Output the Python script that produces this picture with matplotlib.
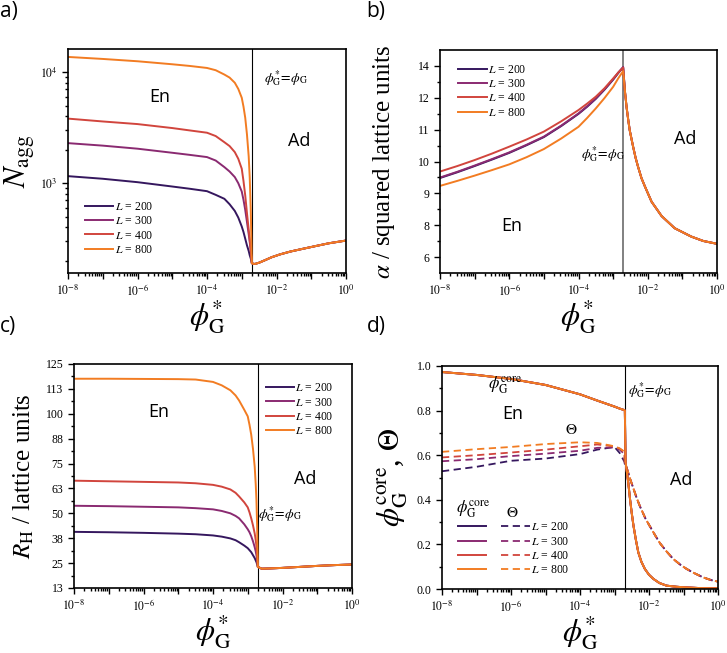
import numpy as np
import matplotlib
matplotlib.use('Agg')
import matplotlib.pyplot as plt
from matplotlib.ticker import FixedLocator, NullFormatter, FixedFormatter, LogLocator, MultipleLocator

plt.rcParams['font.family'] = ['Liberation Serif', 'DejaVu Serif']
plt.rcParams['mathtext.fontset'] = 'stix'

# ---------------- data ----------------
L_values = [200, 300, 400, 800]
colors = ['#35175e', '#8a2a71', '#d1453d', '#f27c22']
phi_c_exp = -2.71          # log10 of the critical phi*_G

# panel a : N_agg
a_en_exp = [-8, -7, -6, -5, -4.5, -4, -3.75, -3.5, -3.35, -3.2, -3.1, -3.0, -2.95, -2.9,
            -2.85, -2.8, -2.77, -2.74, -2.71]
a_N200 = [1157, 1096, 1021, 933, 891, 847, 785, 723, 646, 562, 490, 407, 363, 316,
          275, 245, 224, 209, 190]
a_N300 = [2296, 2180, 2046, 1880, 1800, 1719, 1600, 1396, 1274, 1135, 1000, 841, 708, 575,
          447, 347, 295, 245, 190]
a_N400 = [3820, 3600, 3410, 3140, 2990, 2850, 2660, 2340, 2160, 1905, 1660, 1350, 1047, 776,
          537, 380, 309, 245, 190]
a_N800 = [13740, 13180, 12560, 11800, 11400, 10930, 10430, 9530, 8950, 8040, 7080, 5890, 4900, 3890,
          2750, 1740, 1120, 560, 190]
a_ad_exp = [-2.68, -2.62, -2.5, -2.35, -2.14, -1.9, -1.6, -1.27, -0.9, -0.5, 0.0]
a_ad_N = [188, 187, 192, 201, 215, 228, 242, 255, 270, 287, 304]

# panel b : alpha
b_en_exp = [-8, -7.5, -7, -6.5, -6, -5.5, -5, -4.5, -4, -3.75, -3.5, -3.25, -3, -2.85, -2.71]
b_a200 = [9.31, 9.55, 9.81, 10.08, 10.36, 10.68, 11.02, 11.48, 11.99, 12.29, 12.62, 13.00, 13.42, 13.70, 13.93]
b_a300 = [9.33, 9.57, 9.83, 10.10, 10.38, 10.70, 11.04, 11.50, 12.01, 12.31, 12.64, 13.02, 13.44, 13.72, 13.95]
b_a400 = [9.58, 9.81, 10.06, 10.33, 10.62, 10.92, 11.25, 11.68, 12.15, 12.42, 12.71, 13.06, 13.47, 13.72, 13.92]
b_a800 = [8.98, 9.19, 9.41, 9.64, 9.88, 10.18, 10.52, 10.96, 11.45, 11.82, 12.22, 12.65, 13.12, 13.48, 13.78]
b_ad_exp = [-2.66, -2.61, -2.56, -2.52, -2.47, -2.42, -2.35, -2.28, -2.18, -2.08, -1.89, -1.60,
            -1.22, -0.74, -0.4, 0.0]
b_ad_a = [12.95, 12.25, 11.7, 11.3, 10.95, 10.6, 10.15, 9.78, 9.3, 8.95, 8.32, 7.72,
          7.21, 6.86, 6.68, 6.56]
b_tick_vals = [6, 22 / 3, 26 / 3, 10, 34 / 3, 38 / 3, 14]
b_tick_labels = ['6', '8', '9', '10', '11', '12', '14']

# panel c : R_H
c_en_exp = [-8, -7, -6, -5, -4.5, -4, -3.75, -3.5, -3.35, -3.25, -3.1, -3.0, -2.95, -2.9,
            -2.85, -2.8, -2.77, -2.75, -2.73, -2.71]
c_R200 = [40.7, 40.5, 40.2, 39.8, 39.5, 38.9, 38.3, 37.4, 36.5, 35.5, 33.8, 32.5, 31.5, 30.5,
          29.0, 27.5, 26.3, 25.5, 24.4, 23.1]
c_R300 = [53.8, 53.6, 53.3, 53.0, 52.6, 52.0, 51.2, 50.0, 48.7, 47.5, 44.5, 42.0, 40.5, 38.5,
          36.0, 33.0, 30.8, 29.0, 26.5, 23.1]
c_R400 = [66.4, 66.1, 65.8, 65.5, 65.1, 64.3, 63.4, 62.0, 60.3, 58.5, 55.5, 53.0, 50.5, 47.5,
          44.0, 39.9, 36.5, 33.5, 29.5, 23.1]
c_R800 = [117.6, 117.6, 117.5, 117.4, 117.2, 116.0, 114.3, 111.8, 109.2, 106.7, 102.0, 98.7, 94.5, 89.5,
          82.5, 73.4, 64.5, 56.7, 44.0, 23.1]
c_ad_exp = [-2.6, -2.4, -2.0, -1.5, -1.0, -0.5, 0.0]
c_ad_R = [22.2, 22.3, 22.6, 23.1, 23.6, 24.0, 24.3]
c_tick_vals = [12.5, 25, 37.5, 50, 62.5, 75, 87.5, 100, 112.5, 125]
c_tick_labels = ['13', '25', '38', '50', '63', '75', '88', '100', '113', '125']

# panel d : phi_core (solid) and Theta (dashed)
d_en_exp = [-8, -7, -6, -5, -4, -3.5, -3.0, -2.85, -2.71]
d_core_en = [0.973, 0.960, 0.942, 0.915, 0.873, 0.845, 0.818, 0.809, 0.802]
d_core_ad_exp = [-2.70, -2.68, -2.65, -2.60, -2.55, -2.50, -2.45, -2.38, -2.31, -2.22, -2.12,
                 -2.0, -1.87, -1.7, -1.49, -1.2, -0.91, -0.5, 0.0]
d_core_ad = [0.80, 0.57, 0.535, 0.475, 0.403, 0.34, 0.284, 0.22, 0.164, 0.122, 0.090,
             0.064, 0.045, 0.027, 0.015, 0.010, 0.007, 0.004, 0.003]
d_th200 = [0.528, 0.548, 0.575, 0.585, 0.605, 0.625, 0.637, 0.610, 0.570]
d_th300 = [0.573, 0.582, 0.596, 0.607, 0.620, 0.633, 0.635, 0.625, 0.605]
d_th400 = [0.590, 0.600, 0.612, 0.625, 0.640, 0.648, 0.640, 0.630, 0.615]
d_th800 = [0.615, 0.627, 0.637, 0.650, 0.658, 0.655, 0.640, 0.630, 0.615]
d_th_ad_exp = [-2.70, -2.65, -2.55, -2.45, -2.35, -2.26, -2.1, -1.97, -1.8, -1.68, -1.5,
               -1.30, -1.1, -0.91, -0.7, -0.43, -0.2, 0.0]
d_th_ad = [0.56, 0.545, 0.495, 0.45, 0.405, 0.37, 0.315, 0.28, 0.235, 0.205, 0.17,
           0.135, 0.11, 0.090, 0.072, 0.052, 0.04, 0.033]

# ---------------- figure ----------------
W, H = 727, 653
fig = plt.figure(figsize=(W / 100, H / 100), dpi=100)


def axes_px(l, t, r, b):
    return fig.add_axes([l / W, 1 - b / H, (r - l) / W, (b - t) / H])


axa = axes_px(68, 49, 346, 273)
axb = axes_px(440, 50, 717, 273)
axc = axes_px(74, 364, 352, 588)
axd = axes_px(442, 366, 718, 589)

sans = ['Open Sans', 'DejaVu Sans']
tick_fs = 8.5
crit_label = r'$\phi^{*}_{\rm G}\!=\!\phi_{\rm G}$'
xlab = r'$\phi^{*}_{\rm G}$'
leg_kw = dict(frameon=False, fontsize=8.5, handlelength=2.4, handletextpad=0.1,
              labelspacing=0.2, borderpad=0)


def style_axes(ax, vcolor='black', vlw=0.8):
    ax.set_xscale('log')
    ax.set_xlim(1e-8, 1e0)
    dec = [10.0 ** e for e in range(-8, 1)]
    ax.xaxis.set_major_locator(FixedLocator(dec))
    ax.xaxis.set_major_formatter(FixedFormatter(
        [r'$10^{%d}$' % e if e % 2 == 0 else '' for e in range(-8, 1)]))
    ax.xaxis.set_minor_locator(LogLocator(base=10, subs=np.arange(2, 10), numticks=20))
    ax.xaxis.set_minor_formatter(NullFormatter())
    for s in ax.spines.values():
        s.set_linewidth(1.2)
    ax.tick_params(which='both', direction='out', top=False, right=False,
                   labelsize=tick_fs, width=1.0)
    ax.tick_params(which='major', length=4)
    ax.tick_params(which='minor', length=2)
    ax.axvline(10.0 ** phi_c_exp, color=vcolor, lw=vlw, zorder=1)
    ax.set_xlabel(xlab, fontsize=22)
    ax.xaxis.set_label_coords(0.5, -0.115)


def full(en_exp, en_vals, ad_exp, ad_vals):
    x = 10.0 ** np.array(list(en_exp) + list(ad_exp))
    y = np.array(list(en_vals) + list(ad_vals))
    return x, y


def leg_labels():
    return [r'$L$ = %d' % L for L in L_values]


def region_text(ax, x, y, s, **kw):
    ax.text(x, y, s, transform=ax.transAxes, ha='center', va='center', **kw)


# ---- panel a ----
style_axes(axa)
axa.set_yscale('log')
axa.set_ylim(155, 16200)
axa.yaxis.set_major_locator(FixedLocator([1e3, 1e4]))
axa.yaxis.set_major_formatter(FixedFormatter([r'$10^{3}$', r'$10^{4}$']))
axa.yaxis.set_minor_locator(LogLocator(base=10, subs=np.arange(2, 10), numticks=20))
axa.yaxis.set_minor_formatter(NullFormatter())
for vals, col, lab in zip([a_N200, a_N300, a_N400, a_N800], colors, leg_labels()):
    x, y = full(a_en_exp, vals, a_ad_exp, a_ad_N)
    axa.plot(x, y, color=col, lw=1.4, label=lab)
axa.legend(loc='lower left', bbox_to_anchor=(0.04, 0.05), **leg_kw)
axa.set_ylabel(r'$N_{\rm agg}$', fontsize=22)
axa.yaxis.set_label_coords(-0.11, 0.5)
region_text(axa, 0.33, 0.785, 'En', fontsize=13, family=sans)
region_text(axa, 0.83, 0.59, 'Ad', fontsize=13, family=sans)
region_text(axa, 0.785, 0.87, crit_label, fontsize=10)

# ---- panel b ----
style_axes(axb, vcolor='#808080', vlw=1.4)
axb.set_ylim(5.34, 14.66)
axb.yaxis.set_major_locator(FixedLocator(b_tick_vals))
axb.yaxis.set_major_formatter(FixedFormatter(b_tick_labels))
axb.yaxis.set_minor_locator(FixedLocator([(b_tick_vals[i] + b_tick_vals[i + 1]) / 2
                                          for i in range(len(b_tick_vals) - 1)]))
for vals, col, lab in zip([b_a200, b_a300, b_a400, b_a800], colors, leg_labels()):
    x, y = full(b_en_exp, vals, b_ad_exp, b_ad_a)
    axb.plot(x, y, color=col, lw=1.4, label=lab)
axb.legend(loc='upper left', bbox_to_anchor=(0.045, 0.965), **leg_kw)
axb.set_ylabel(r'$\alpha$ / squared lattice units', fontsize=18)
axb.yaxis.set_label_coords(-0.155, 0.5)
region_text(axb, 0.26, 0.21, 'En', fontsize=13, family=sans)
region_text(axb, 0.885, 0.60, 'Ad', fontsize=13, family=sans)
region_text(axb, 0.59, 0.535, crit_label, fontsize=10)

# ---- panel c ----
style_axes(axc)
axc.set_ylim(12.5, 125)
axc.yaxis.set_major_locator(FixedLocator(c_tick_vals))
axc.yaxis.set_major_formatter(FixedFormatter(c_tick_labels))
axc.yaxis.set_minor_locator(MultipleLocator(6.25))
for vals, col, lab in zip([c_R200, c_R300, c_R400, c_R800], colors, leg_labels()):
    x, y = full(c_en_exp, vals, c_ad_exp, c_ad_R)
    axc.plot(x, y, color=col, lw=1.4, label=lab)
axc.legend(loc='upper right', bbox_to_anchor=(0.955, 0.945), **leg_kw)
axc.set_ylabel(r'$R_{\rm H}$ / lattice units', fontsize=18)
axc.yaxis.set_label_coords(-0.135, 0.5)
region_text(axc, 0.305, 0.785, 'En', fontsize=13, family=sans)
region_text(axc, 0.83, 0.485, 'Ad', fontsize=13, family=sans)
region_text(axc, 0.74, 0.33, crit_label, fontsize=10)

# ---- panel d ----
style_axes(axd)
axd.set_ylim(0, 1)
axd.yaxis.set_major_locator(FixedLocator([0, 0.2, 0.4, 0.6, 0.8, 1.0]))
axd.yaxis.set_major_formatter(FixedFormatter(['0.0', '0.2', '0.4', '0.6', '0.8', '1.0']))
axd.yaxis.set_minor_locator(MultipleLocator(0.1))
solid_h, dash_h = [], []
for vals, col in zip([d_th200, d_th300, d_th400, d_th800], colors):
    x, y = full(d_en_exp, vals, d_th_ad_exp, d_th_ad)
    h, = axd.plot(x, y, color=col, lw=1.3, ls=(0, (4, 2.5)))
    dash_h.append(h)
for col in colors:
    x, y = full(d_en_exp, d_core_en, d_core_ad_exp, d_core_ad)
    h, = axd.plot(x, y, color=col, lw=1.4)
    solid_h.append(h)
axd.legend(handles=solid_h + dash_h, labels=[''] * 4 + leg_labels(), ncol=2,
           loc='lower left', bbox_to_anchor=(0.035, 0.03), columnspacing=1.2, **leg_kw)
axd.set_ylabel(r'$\phi_{\rm G}^{\rm core}$, $\Theta$', fontsize=22)
axd.yaxis.set_label_coords(-0.115, 0.5)
region_text(axd, 0.255, 0.785, 'En', fontsize=13, family=sans)
region_text(axd, 0.865, 0.49, 'Ad', fontsize=13, family=sans)
region_text(axd, 0.755, 0.89, crit_label, fontsize=10)
region_text(axd, 0.23, 0.915, r'$\phi_{\rm G}^{\rm core}$', fontsize=12)
region_text(axd, 0.47, 0.715, r'$\Theta$', fontsize=11)
region_text(axd, 0.112, 0.36, r'$\phi_{\rm G}^{\rm core}$', fontsize=12)
region_text(axd, 0.254, 0.34, r'$\Theta$', fontsize=11)

# ---- panel letters ----
for lab, (px, py) in zip(['a)', 'b)', 'c)', 'd)'],
                         [(0, 12), (366, 12), (0, 327), (367, 327)]):
    fig.text(px / W, 1 - py / H, lab, fontsize=15, family=sans, ha='left', va='center')

fig.savefig('out.png', dpi=100)
